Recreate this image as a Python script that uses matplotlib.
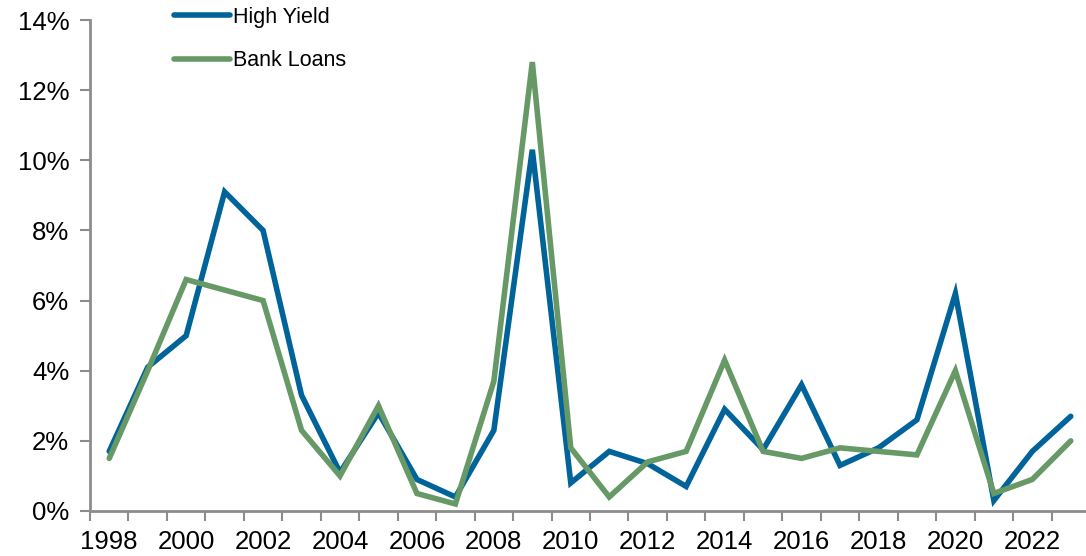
import matplotlib
matplotlib.use("Agg")
import matplotlib.pyplot as plt
from matplotlib.ticker import FuncFormatter, FixedLocator

plt.rcParams['font.family'] = ['Liberation Sans', 'DejaVu Sans']

years = list(range(1998, 2024))
high_yield = [1.7, 4.1, 5.0, 9.1, 8.0, 3.3, 1.1, 2.8, 0.9, 0.4, 2.3, 10.3, 0.8,
              1.7, 1.35, 0.7, 2.9, 1.75, 3.6, 1.3, 1.8, 2.6, 6.2, 0.3, 1.7, 2.7]
bank_loans = [1.5, 4.0, 6.6, 6.3, 6.0, 2.3, 1.0, 3.0, 0.5, 0.2, 3.7, 12.8, 1.8,
              0.4, 1.4, 1.7, 4.3, 1.7, 1.5, 1.8, 1.7, 1.6, 4.0, 0.5, 0.9, 2.0]
yticks = [0, 2, 4, 6, 8, 10, 12, 14]

blue = '#00639A'
green = '#669966'
axis_grey = '#8C8C8C'

fig = plt.figure(figsize=(10.86, 5.56), dpi=100)
ax = fig.add_axes([90 / 1086, 45 / 556, 1000 / 1086, 491 / 556])

x = list(range(len(years)))
ax.plot(x, high_yield, color=blue, lw=4, label='High Yield',
        solid_joinstyle='miter', solid_capstyle='round')
ax.plot(x, bank_loans, color=green, lw=4, label='Bank Loans',
        solid_joinstyle='miter', solid_capstyle='round')

ax.set_xlim(-0.5, len(years) - 0.5)
ax.set_ylim(0, 14)

# category boundaries get the tick marks, every other year gets a label
ax.xaxis.set_major_locator(FixedLocator([i - 0.5 for i in range(len(years) + 1)]))
ax.set_xticklabels([])
ax.xaxis.set_minor_locator(FixedLocator([i for i, y in enumerate(years) if y % 2 == 0]))
ax.xaxis.set_minor_formatter(FuncFormatter(lambda v, p: str(years[int(round(v))])))
ax.tick_params(axis='x', which='major', length=7, width=1.5, color=axis_grey, direction='out')
ax.tick_params(axis='x', which='minor', length=0, labelsize=18.5, pad=14)

ax.set_yticks(yticks)
ax.yaxis.set_major_formatter(FuncFormatter(lambda v, p: f'{v:.0f}%'))
ax.tick_params(axis='y', length=7, width=1.5, color=axis_grey, labelsize=18.5, pad=8)

for side in ['top', 'right']:
    ax.spines[side].set_visible(False)
for side in ['left', 'bottom']:
    ax.spines[side].set_color(axis_grey)
    ax.spines[side].set_linewidth(2)

fig.legend(loc='upper left', bbox_to_anchor=(165 / 1086, 1 + 2 / 556), frameon=False,
           fontsize=15.5, handlelength=2.6, handletextpad=0.15, labelspacing=1.05,
           borderaxespad=0)

fig.savefig('out.png', dpi=100)
